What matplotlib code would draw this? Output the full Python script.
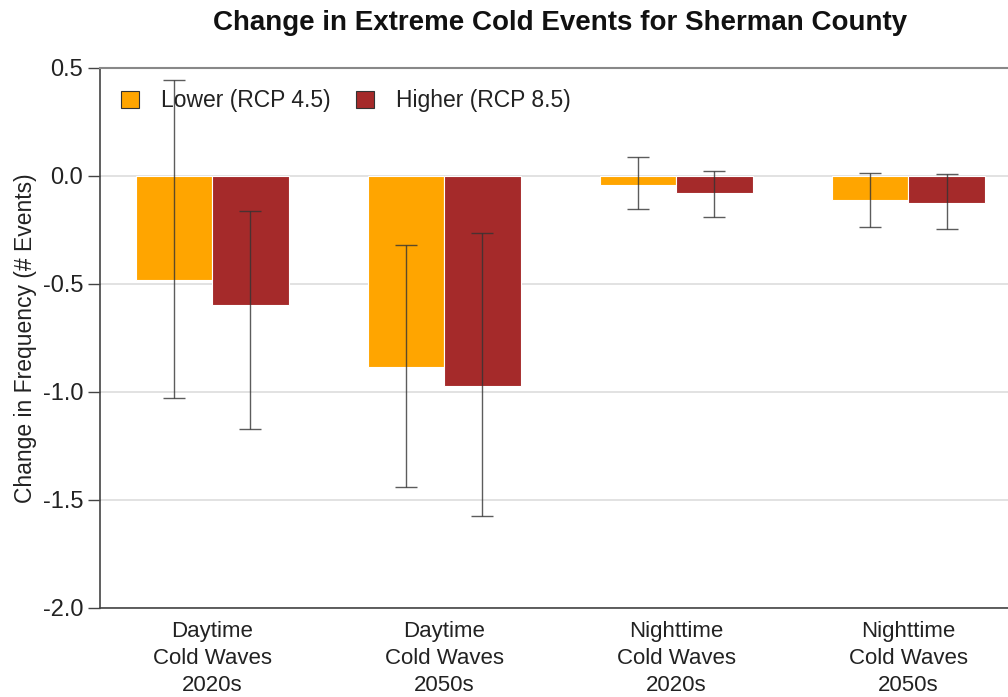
import matplotlib
matplotlib.use("Agg")
import matplotlib.pyplot as plt
import numpy as np
from matplotlib.patches import Patch

plt.rcParams['font.family'] = ['Liberation Sans', 'DejaVu Sans']

categories = ["Daytime\nCold Waves\n2020s", "Daytime\nCold Waves\n2050s",
              "Nighttime\nCold Waves\n2020s", "Nighttime\nCold Waves\n2050s"]
lower_vals = [-0.48, -0.885, -0.04, -0.11]
lower_hi = [0.445, -0.32, 0.09, 0.012]
lower_lo = [-1.03, -1.44, -0.155, -0.235]
higher_vals = [-0.595, -0.97, -0.08, -0.125]
higher_hi = [-0.16, -0.265, 0.025, 0.01]
higher_lo = [-1.17, -1.575, -0.19, -0.245]
yticks = [0.5, 0.0, -0.5, -1.0, -1.5, -2.0]
series_names = ["Lower (RCP 4.5)", "Higher (RCP 8.5)"]
colors = ["#FFA500", "#A52A2A"]

fig = plt.figure(figsize=(10.08, 6.97), dpi=100)
ax = fig.add_axes([100/1008, 1-608/697, 1-100/1008, 540/697])

x = np.arange(len(categories))
w = 0.33
lv = np.array(lower_vals); hv = np.array(higher_vals)
ax.bar(x - w/2, lv, width=w, color=colors[0], edgecolor='white', linewidth=0.8, zorder=2)
ax.bar(x + w/2, hv, width=w, color=colors[1], edgecolor='white', linewidth=0.8, zorder=2)

for off, vals, hi, lo in [(-w/2, lower_vals, lower_hi, lower_lo), (w/2, higher_vals, higher_hi, higher_lo)]:
    vals = np.array(vals); hi = np.array(hi); lo = np.array(lo)
    ax.errorbar(x + off, vals, yerr=[vals - lo, hi - vals], fmt='none', ecolor='#333333',
                elinewidth=1.0, capsize=8, capthick=1.0, zorder=3, alpha=0.8)

ax.set_ylim(-2.0, 0.5)
ax.set_xlim(-0.483, 3.43)
ax.set_yticks(yticks)
ax.set_yticklabels([f"{t:.1f}" for t in yticks], fontsize=17, color='#222222')
ax.set_xticks(x)
ax.set_xticklabels(categories, fontsize=16, color='#222222', linespacing=1.4)
ax.tick_params(axis='x', length=0, pad=9)
ax.tick_params(axis='y', length=9, width=1, color='#444444', pad=3)
ax.yaxis.grid(True, color='#dddddd', linewidth=1.2, zorder=0)
ax.set_axisbelow(True)
for s in ['left', 'bottom']:
    ax.spines[s].set_color('#444444')
    ax.spines[s].set_linewidth(1.2)
ax.spines['top'].set_color('#888888')
ax.spines['top'].set_linewidth(1.5)
ax.spines['right'].set_visible(False)

ax.set_ylabel("Change in Frequency (# Events)", fontsize=16.5, color='#222222', labelpad=4)
fig.text(560/1008, 1-23/697, "Change in Extreme Cold Events for Sherman County",
         ha='center', va='center', fontsize=20, fontweight='bold', color='#111111')

handles = [Patch(facecolor=colors[i], edgecolor='#333333', linewidth=0.8) for i in range(2)]
ax.legend(handles, series_names, loc='upper left', bbox_to_anchor=(0.005, 0.99), ncol=2,
          frameon=False, fontsize=16.5, handlelength=0.8, handleheight=0.8,
          handletextpad=0.95, columnspacing=1.1, labelcolor='#222222', borderaxespad=0.3)

fig.savefig("out.png", dpi=100)
